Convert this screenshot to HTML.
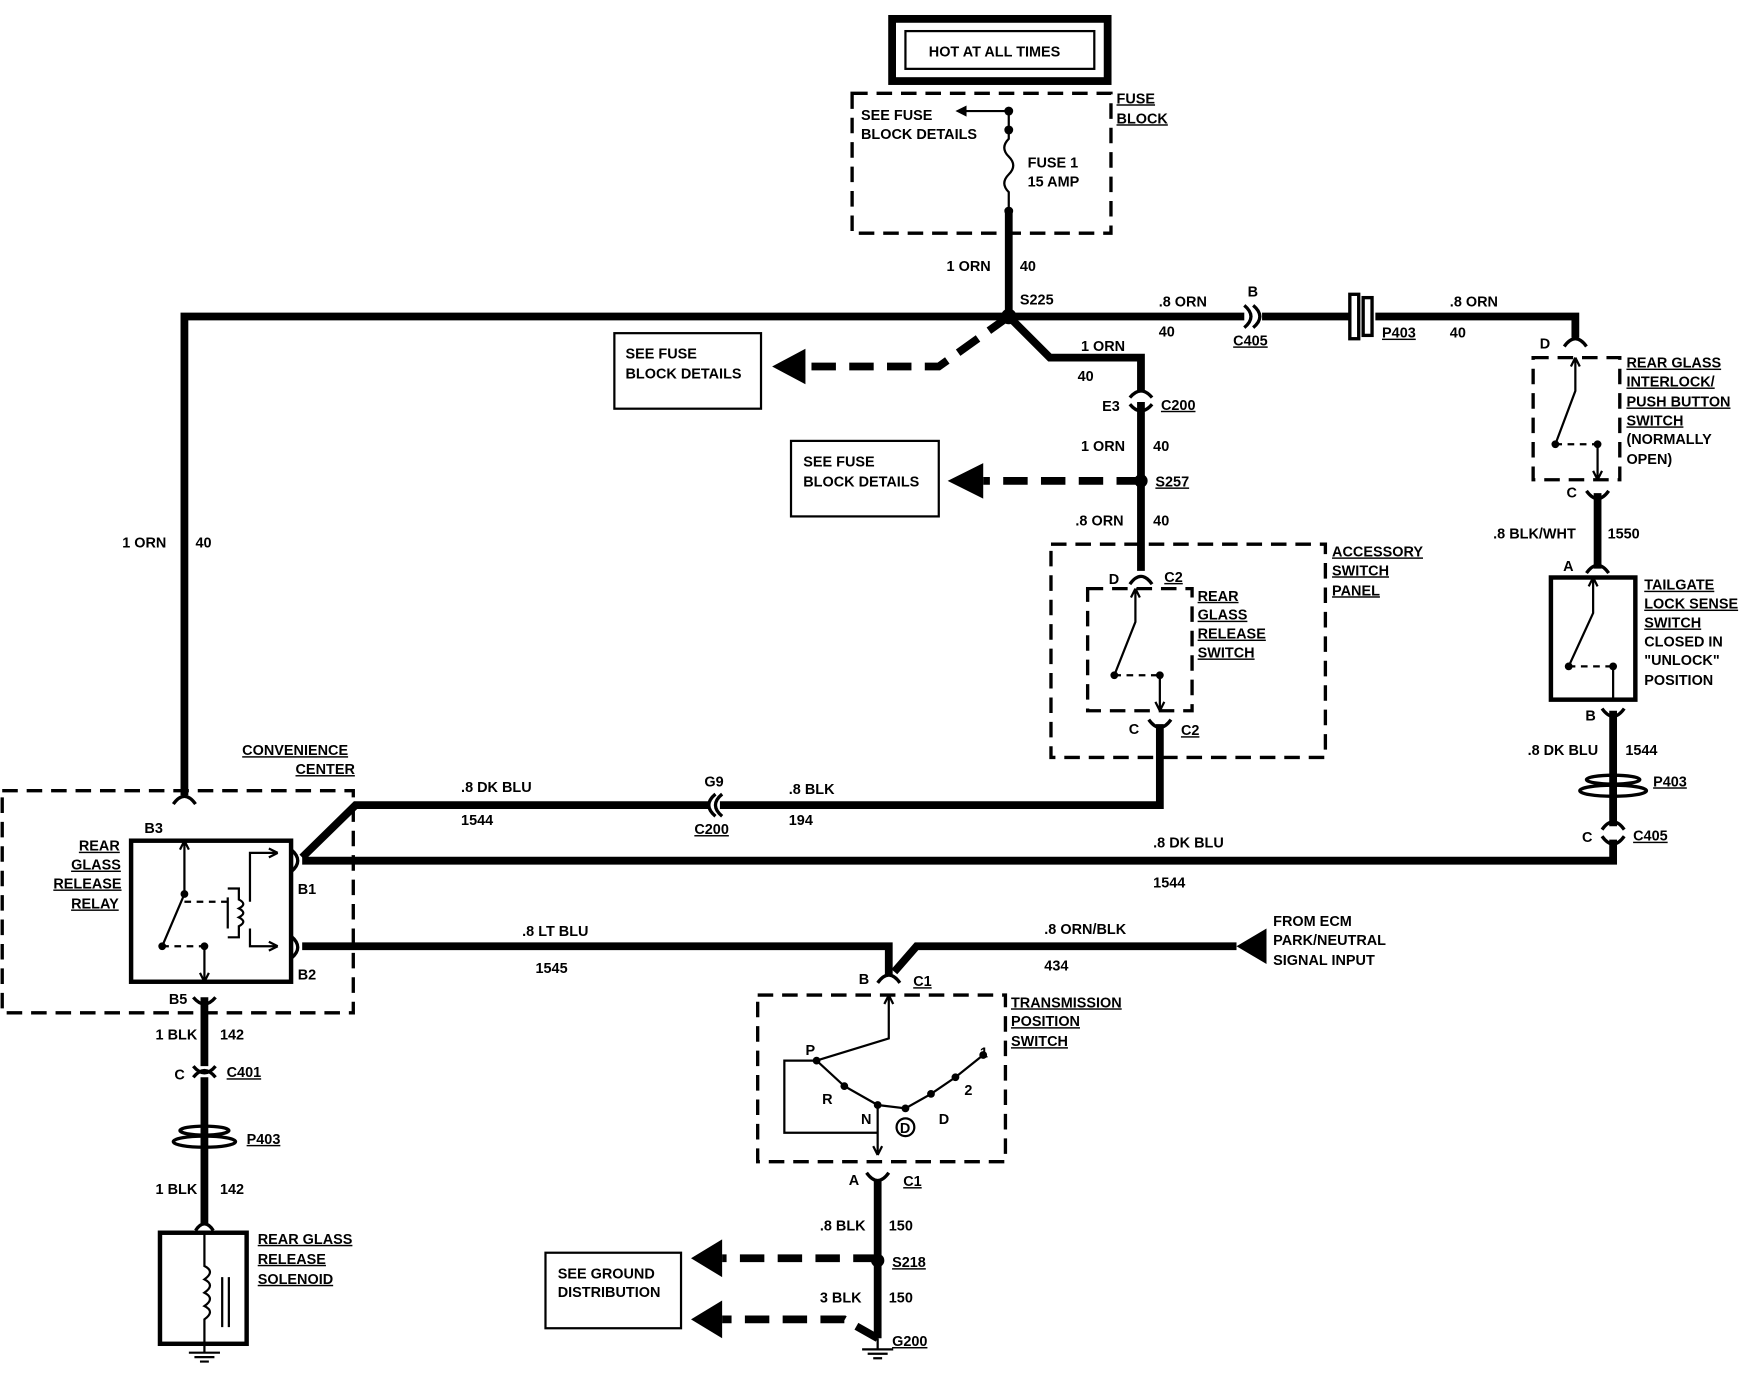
<!DOCTYPE html>
<html><head><meta charset="utf-8"><style>
html,body{margin:0;padding:0;background:#fff}
svg{display:block}
text{font-family:"Liberation Sans",sans-serif;font-weight:bold;font-size:13px;fill:#000}
.u{text-decoration:underline}
</style></head><body>
<svg width="1742" height="1376" viewBox="0 0 1568 1239" preserveAspectRatio="none" xmlns="http://www.w3.org/2000/svg">
<g fill="none" stroke="#000">
<rect x="803" y="17" width="194" height="56" stroke-width="7"/>
<rect x="815" y="28" width="170" height="34" stroke-width="2"/>
<rect x="767" y="84" width="233" height="126" stroke-width="3" stroke-dasharray="14,8"/>
<path d="M908 100 H868" stroke-width="2"/>
<path d="M908 100 V125 q-8 8 0 16 q8 8 0 16 q-8 8 0 16 V190" stroke-width="2"/>
<g stroke-width="7">
<path d="M908 190 V285"/>
<path d="M166 716 V285 H1120"/>
<path d="M1136 285 H1215"/>
<path d="M1238 285 H1418 V304"/>
<path d="M908 285 L945 322 H1027 V352"/>
<path d="M1027 362 V514"/>
<path d="M1044 652 V725 H648"/>
<path d="M638 725 H320 L272 772"/>
<path d="M272 775 H1452 V756"/>
<path d="M1452 744 V640"/>
<path d="M1438 444 V512"/>
<path d="M272 852 H800 V878"/>
<path d="M1113 852 H825 L805 875"/>
<path d="M790 1062 V1205"/>
<path d="M184 898 V960"/>
<path d="M184 970 V1102"/>
</g>
<g stroke-width="7" stroke-dasharray="22,12">
<path d="M908 285 L845 330 H725"/>
<path d="M1027 433 H885"/>
<path d="M790 1133 H650"/>
<path d="M790 1205 L760 1188 H650"/>
</g>
<g stroke-width="3" stroke-dasharray="14,8">
<rect x="946" y="490" width="247" height="192"/>
<rect x="979" y="530" width="94" height="110"/>
<rect x="2" y="712" width="316" height="200"/>
<rect x="1380" y="322" width="78" height="110"/>
<rect x="682" y="896" width="223" height="150"/>
</g>
<g stroke-width="2">
<rect x="553" y="300" width="132" height="68"/>
<rect x="712" y="397" width="133" height="68"/>
<rect x="491" y="1128" width="122" height="68"/>
</g>
<rect x="118" y="757" width="144" height="127" stroke-width="4"/>
<rect x="1396" y="520" width="76" height="110" stroke-width="4"/>
<rect x="144" y="1110" width="78" height="100" stroke-width="4"/>
<g stroke-width="3">
<path d="M156 724 q10 -14 20 0"/><path d="M174 898 q10 12 20 0"/>
<path d="M1017 358 q10 -12 20 0 M1017 364 q10 12 20 0"/>
<path d="M1017 526 q10 -14 20 0"/><path d="M1034 648 q10 14 20 0"/>
<path d="M1408 312 q10 -14 20 0"/><path d="M1428 442 q10 14 20 0"/>
<path d="M1428 516 q10 -14 20 0"/><path d="M1442 638 q10 14 20 0"/>
<path d="M1442 747 q10 -14 20 0 M1442 753 q10 14 20 0"/>
<path d="M1120 275 q12 10 0 20 M1128 275 q12 10 0 20"/>
<path d="M650 715 q-12 10 0 20 M644 715 q-12 10 0 20"/>
<path d="M174 960 q10 12 20 0 M174 970 q10 -12 20 0"/>
<path d="M790 885 q10 -14 20 0"/><path d="M780 1056 q10 14 20 0"/>
<path d="M176 1108 q8 -12 16 0"/>
<path d="M262 765 q12 10 0 20 M262 843 q12 10 0 20"/>
</g>
<rect x="1215" y="265" width="8" height="40" stroke-width="3"/><rect x="1227" y="268" width="8" height="34" stroke-width="3"/>
<ellipse cx="1452" cy="712" rx="30" ry="5" stroke-width="3"/><ellipse cx="1452" cy="702" rx="24" ry="4" stroke-width="3"/>
<ellipse cx="184" cy="1028" rx="28" ry="5" stroke-width="3"/><ellipse cx="184" cy="1018" rx="22" ry="4" stroke-width="3"/>
<g stroke-width="2">
<path d="M1022 530 V560 L1003 608 M1044 608 V640 M1022 530 l-4 8 M1022 530 l4 8 M1044 640 l-4 -8 M1044 640 l4 -8"/>
<path d="M1418 322 V352 L1400 400 M1438 400 V432 M1418 322 l-4 8 M1418 322 l4 8 M1438 432 l-4 -8 M1438 432 l4 -8"/>
<path d="M1434 520 V552 L1412 600 M1452 600 V630 M1434 520 l-4 8 M1434 520 l4 8"/>
<path d="M166 757 V805 L146 852 M184 852 V884 M166 757 l-4 8 M166 757 l4 8 M184 884 l-4 -8 M184 884 l4 -8"/>
<path d="M205 808 V836 M205 800 h10 v10 q8 4 0 8 q8 4 0 8 q8 4 0 8 v10 h-10"/>
<path d="M225 812 V768 H250 M225 836 V852 H250 M250 768 l-8 -4 M250 768 l-8 4 M250 852 l-8 -4 M250 852 l-8 4"/>
<path d="M800 896 V935 L735 955 M800 896 l-4 8 M800 896 l4 8 M735 955 L706 955 V1020 H790 V1000 M735 955 L760 978 L790 995 L815 998 L838 985 L860 970 L885 950 M790 995 V1040 M790 1040 l-4 -8 M790 1040 l4 -8"/>
<circle cx="815" cy="1015" r="8"/>
<path d="M184 1110 V1140 q10 5 0 12 q10 5 0 12 q10 5 0 12 q10 5 0 12 V1210 M200 1150 V1195 M206 1150 V1195"/>
</g>
<g stroke-width="2" stroke-dasharray="6,5"><path d="M1003 608 H1044"/><path d="M1400 400 H1438"/><path d="M1412 600 H1452"/><path d="M166 812 H205"/><path d="M146 852 H184"/></g>
<g stroke-width="2"><path d="M184 1210 V1218 M170 1218 H198 M175 1222 H193 M180 1226 H188"/><path d="M790 1205 V1215 M776 1215 H804 M781 1219 H799 M786 1223 H794"/></g>
</g>
<g fill="#000">
<circle cx="908" cy="100" r="4"/><circle cx="908" cy="117" r="4"/><circle cx="908" cy="190" r="4"/>
<circle cx="908" cy="285" r="7"/><circle cx="1027" cy="433" r="6"/><circle cx="790" cy="1135" r="6"/>
<circle cx="1003" cy="608" r="3.5"/><circle cx="1044" cy="608" r="3.5"/><circle cx="1400" cy="400" r="3.5"/><circle cx="1438" cy="400" r="3.5"/>
<circle cx="1412" cy="600" r="3.5"/><circle cx="1452" cy="600" r="3.5"/><circle cx="166" cy="805" r="3.5"/><circle cx="146" cy="852" r="3.5"/><circle cx="184" cy="852" r="3.5"/>
<circle cx="735" cy="955" r="3.5"/><circle cx="760" cy="978" r="3.5"/><circle cx="790" cy="995" r="3.5"/><circle cx="815" cy="998" r="3.5"/><circle cx="838" cy="985" r="3.5"/><circle cx="860" cy="970" r="3.5"/><circle cx="885" cy="950" r="3.5"/>
<path d="M860 100 l10 -5 v10z"/>
<path d="M695 330 l30 -16 v32z"/><path d="M853 433 l32 -16 v32z"/>
<path d="M1113 852 l27 -16 v32z"/>
<path d="M622 1133 l28 -17 v34z"/><path d="M622 1188 l28 -17 v34z"/>
</g>
<text x="836" y="51">HOT AT ALL TIMES</text>
<text x="775" y="108">SEE FUSE</text><text x="775" y="125">BLOCK DETAILS</text>
<text x="1005" y="93" class="u">FUSE</text><text x="1005" y="111" class="u">BLOCK</text>
<text x="925" y="151">FUSE 1</text><text x="925" y="168">15 AMP</text>
<text x="852" y="244">1 ORN</text><text x="918" y="244">40</text>
<text x="918" y="274">S225</text>
<text x="1043" y="276">.8 ORN</text><text x="1123" y="267">B</text><text x="1043" y="303">40</text><text x="1110" y="311" class="u">C405</text>
<text x="1244" y="304" class="u">P403</text><text x="1305" y="276">.8 ORN</text><text x="1305" y="304">40</text>
<text x="563" y="323">SEE FUSE</text><text x="563" y="341">BLOCK DETAILS</text>
<text x="973" y="316">1 ORN</text><text x="970" y="343">40</text>
<text x="992" y="370">E3</text><text x="1045" y="369" class="u">C200</text>
<text x="973" y="406">1 ORN</text><text x="1038" y="406">40</text>
<text x="723" y="420">SEE FUSE</text><text x="723" y="438">BLOCK DETAILS</text>
<text x="1040" y="438" class="u">S257</text>
<text x="968" y="473">.8 ORN</text><text x="1038" y="473">40</text>
<text x="1199" y="501" class="u">ACCESSORY</text><text x="1199" y="518" class="u">SWITCH</text><text x="1199" y="536" class="u">PANEL</text>
<text x="998" y="526">D</text><text x="1048" y="524" class="u">C2</text>
<text x="1078" y="541" class="u">REAR</text><text x="1078" y="558" class="u">GLASS</text><text x="1078" y="575" class="u">RELEASE</text><text x="1078" y="592" class="u">SWITCH</text>
<text x="1016" y="661">C</text><text x="1063" y="662" class="u">C2</text>
<text x="1464" y="331" class="u">REAR GLASS</text><text x="1464" y="348" class="u">INTERLOCK/</text><text x="1464" y="366" class="u">PUSH BUTTON</text><text x="1464" y="383" class="u">SWITCH</text><text x="1464" y="400">(NORMALLY</text><text x="1464" y="418">OPEN)</text>
<text x="1386" y="314">D</text><text x="1410" y="448">C</text>
<text x="1344" y="485">.8 BLK/WHT</text><text x="1447" y="485">1550</text>
<text x="1407" y="514">A</text>
<text x="1480" y="531" class="u">TAILGATE</text><text x="1480" y="548" class="u">LOCK SENSE</text><text x="1480" y="565" class="u">SWITCH</text><text x="1480" y="582">CLOSED IN</text><text x="1480" y="599">"UNLOCK"</text><text x="1480" y="617">POSITION</text>
<text x="1427" y="649">B</text>
<text x="1375" y="680">.8 DK BLU</text><text x="1463" y="680">1544</text>
<text x="1488" y="708" class="u">P403</text>
<text x="1424" y="758">C</text><text x="1470" y="757" class="u">C405</text>
<text x="110" y="493">1 ORN</text><text x="176" y="493">40</text>
<text x="218" y="680" class="u">CONVENIENCE</text><text x="266" y="697" class="u">CENTER</text>
<text x="415" y="713">.8 DK BLU</text><text x="415" y="743">1544</text>
<text x="634" y="708">G9</text><text x="625" y="751" class="u">C200</text>
<text x="710" y="715">.8 BLK</text><text x="710" y="743">194</text>
<text x="1038" y="763">.8 DK BLU</text><text x="1038" y="799">1544</text>
<text x="130" y="750">B3</text>
<text x="71" y="766" class="u">REAR</text><text x="64" y="783" class="u">GLASS</text><text x="48" y="800" class="u">RELEASE</text><text x="64" y="818" class="u">RELAY</text>
<text x="268" y="805">B1</text><text x="268" y="882">B2</text>
<text x="470" y="843">.8 LT BLU</text><text x="482" y="876">1545</text>
<text x="940" y="841">.8 ORN/BLK</text><text x="940" y="874">434</text>
<text x="1146" y="834">FROM ECM</text><text x="1146" y="851">PARK/NEUTRAL</text><text x="1146" y="869">SIGNAL INPUT</text>
<text x="773" y="886">B</text><text x="822" y="888" class="u">C1</text>
<text x="910" y="907" class="u">TRANSMISSION</text><text x="910" y="924" class="u">POSITION</text><text x="910" y="942" class="u">SWITCH</text>
<text x="725" y="950">P</text><text x="740" y="994">R</text><text x="775" y="1012">N</text><text x="845" y="1012">D</text><text x="868" y="986">2</text><text x="882" y="952">1</text><text x="810" y="1020" font-size="10">D</text>
<text x="152" y="904">B5</text>
<text x="140" y="936">1 BLK</text><text x="198" y="936">142</text>
<text x="157" y="972">C</text><text x="204" y="970" class="u">C401</text>
<text x="222" y="1030" class="u">P403</text>
<text x="140" y="1075">1 BLK</text><text x="198" y="1075">142</text>
<text x="232" y="1120" class="u">REAR GLASS</text><text x="232" y="1138" class="u">RELEASE</text><text x="232" y="1156" class="u">SOLENOID</text>
<text x="764" y="1067">A</text><text x="813" y="1068" class="u">C1</text>
<text x="738" y="1108">.8 BLK</text><text x="800" y="1108">150</text>
<text x="803" y="1141" class="u">S218</text>
<text x="502" y="1151">SEE GROUND</text><text x="502" y="1168">DISTRIBUTION</text>
<text x="738" y="1173">3 BLK</text><text x="800" y="1173">150</text>
<text x="803" y="1212" class="u">G200</text>
</svg>
</body></html>
